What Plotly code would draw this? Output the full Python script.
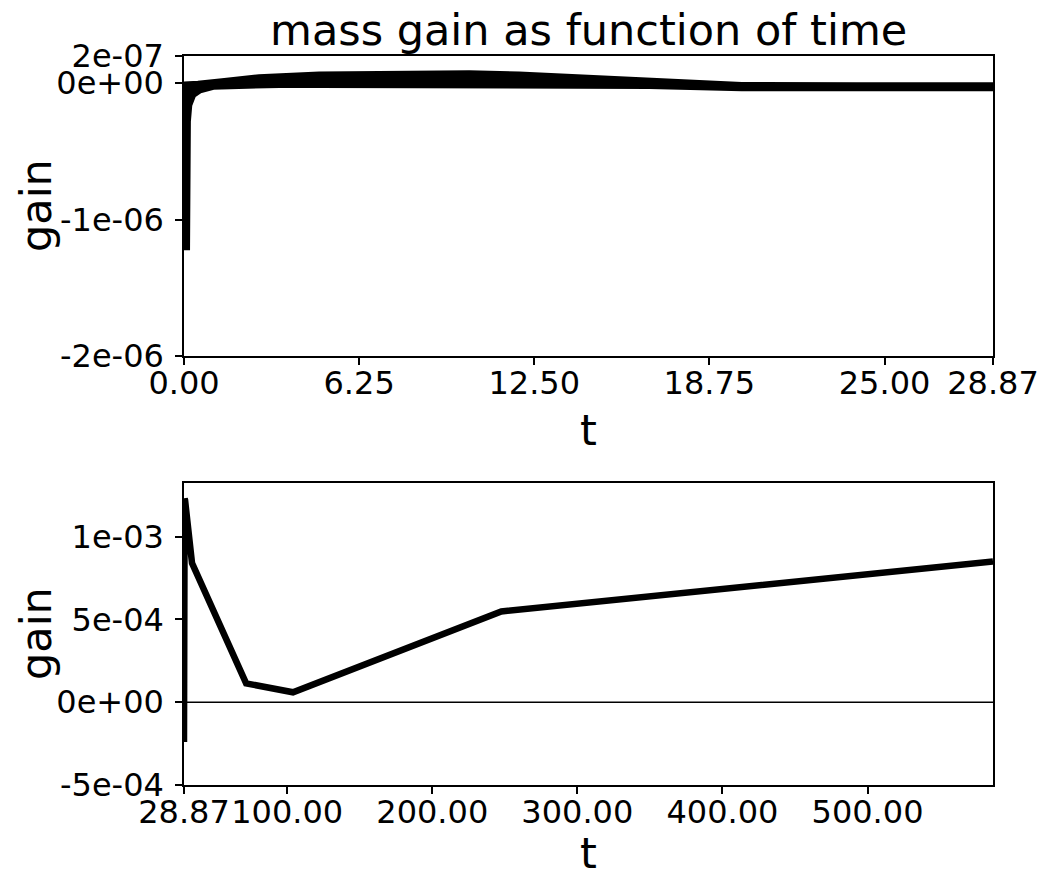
import plotly.graph_objects as go

# ---------------- data ----------------
# top panel: oscillating band, described by its upper and lower envelopes
t_up = [0.0, 0.1, 0.5, 1.36, 2.68, 4.82, 7.68, 10.18, 11.96, 14.1, 16.6, 19.9, 24.0, 28.87]
gain_up = [-1e-8, -1e-8, -5e-9, 1.3e-8, 4.2e-8, 6.3e-8, 7.4e-8, 7.2e-8, 6.2e-8, 4.3e-8,
           1.0e-8, -1.5e-8, -1.6e-8, -1.6e-8]
t_low = [0.0, 0.1, 0.13, 0.18, 0.32, 0.57, 1.04, 2.0, 3.4, 4.8, 7.7, 12.3, 16.6, 19.9, 24.0, 28.87]
gain_low = [-1.2e-6, -1.2e-6, -2.8e-7, -1.6e-7, -8.5e-8, -5e-8, -2.4e-8, -1.4e-8, -1e-8,
            -1e-8, -1.1e-8, -1.3e-8, -1.8e-8, -3.4e-8, -3.5e-8, -3.5e-8]

# bottom panel
t2 = [28.87, 29.0, 29.1, 29.3, 29.6, 34.4, 71.7, 104.0, 247.6, 586.5]
gain2 = [-2.4e-4, 1.23e-3, -2.3e-4, 1.23e-3, 1.22e-3, 8.4e-4, 1.14e-4, 6.0e-5, 5.48e-4, 8.5e-4]

top_xticks = [0.0, 6.25, 12.5, 18.75, 25.0, 28.87]
top_xlabels = ["0.00", "6.25", "12.50", "18.75", "25.00", "28.87"]
top_yticks = [-2e-6, -1e-6, 0.0, 2e-7]
top_ylabels = ["-2e-06", "-1e-06", "0e+00", "2e-07"]
bot_xticks = [28.87, 100, 200, 300, 400, 500]
bot_xlabels = ["28.87", "100.00", "200.00", "300.00", "400.00", "500.00"]
bot_yticks = [-5e-4, 0.0, 5e-4, 1e-3]
bot_ylabels = ["-5e-04", "0e+00", "5e-04", "1e-03"]

title_text = "mass gain as function of time"
xlabel = "t"
ylabel = "gain"

# ---------------- figure ----------------
W, H = 1045, 874
FONT = "DejaVu Sans"
LW = 6.5

fig = go.Figure()

fig.add_trace(go.Scatter(x=t_up, y=gain_up, mode="lines",
                         line=dict(color="black", width=LW), xaxis="x", yaxis="y",
                         showlegend=False, hoverinfo="skip"))
fig.add_trace(go.Scatter(x=t_low, y=gain_low, mode="lines",
                         line=dict(color="black", width=LW), fill="tonexty",
                         fillcolor="black", xaxis="x", yaxis="y",
                         showlegend=False, hoverinfo="skip"))

fig.add_trace(go.Scatter(x=t2, y=gain2, mode="lines",
                         line=dict(color="black", width=LW, shape="linear"),
                         xaxis="x2", yaxis="y2", showlegend=False))

x_dom = [184 / W, 993 / W]
top_dom = [(H - 356) / H, (H - 56) / H]
bot_dom = [(H - 785) / H, (H - 483) / H]

axis_common = dict(showline=True, linecolor="black", linewidth=1.5, mirror=True,
                   ticks="outside", ticklen=7, tickwidth=1.5, tickcolor="black",
                   showgrid=False, zeroline=False, automargin=False, tickangle=0,
                   tickfont=dict(family=FONT, size=32, color="black"))

fig.update_layout(
    width=W, height=H,
    margin=dict(l=0, r=0, t=0, b=0),
    paper_bgcolor="white", plot_bgcolor="white",
    font=dict(family=FONT, color="black"),
    xaxis=dict(domain=x_dom, anchor="y", range=[0, 28.87],
               tickvals=top_xticks, ticktext=top_xlabels, ticklabelstandoff=-9, **axis_common),
    yaxis=dict(domain=top_dom, anchor="x", range=[-2e-6, 2e-7],
               tickvals=top_yticks, ticktext=top_ylabels, ticklabelstandoff=5, **axis_common),
    xaxis2=dict(domain=x_dom, anchor="y2", range=[28.87, 586.5],
                tickvals=bot_xticks, ticktext=bot_xlabels, ticklabelstandoff=-9, **axis_common),
    yaxis2=dict(domain=bot_dom, anchor="x2", range=[-5e-4, 1.324e-3],
                tickvals=bot_yticks, ticktext=bot_ylabels, ticklabelstandoff=5, **axis_common),
)

fig.add_shape(type="line", x0=0, x1=1, y0=0, y1=0, xref="x2 domain", yref="y2",
              line=dict(color="black", width=1.5), layer="below")

cx = (184 + 993) / 2 / W
fig.add_annotation(text=title_text, x=cx, y=1 - 30 / H, xref="paper", yref="paper",
                   xanchor="center", yanchor="middle", showarrow=False,
                   font=dict(family=FONT, size=43, color="black"))
fig.add_annotation(text=xlabel, x=cx, y=1 - 430 / H, xref="paper", yref="paper",
                   xanchor="center", yanchor="middle", showarrow=False,
                   font=dict(family=FONT, size=43, color="black"))
fig.add_annotation(text=xlabel, x=cx, y=1 - 853 / H, xref="paper", yref="paper",
                   xanchor="center", yanchor="middle", showarrow=False,
                   font=dict(family=FONT, size=43, color="black"))
fig.add_annotation(text=ylabel, x=36 / W, y=1 - 206 / H, xref="paper", yref="paper",
                   xanchor="center", yanchor="middle", textangle=-90, showarrow=False,
                   font=dict(family=FONT, size=43, color="black"))
fig.add_annotation(text=ylabel, x=36 / W, y=1 - 634 / H, xref="paper", yref="paper",
                   xanchor="center", yanchor="middle", textangle=-90, showarrow=False,
                   font=dict(family=FONT, size=43, color="black"))

fig.write_html("out.html")
